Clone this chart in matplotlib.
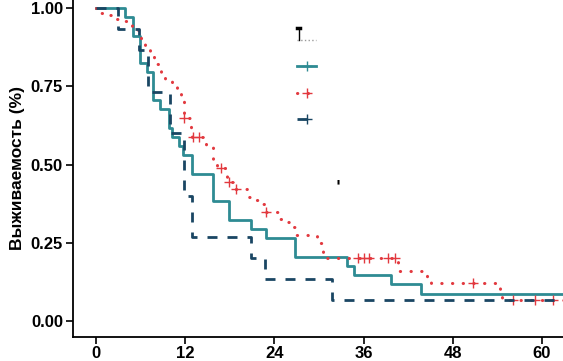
import numpy as np
import matplotlib
matplotlib.use("Agg")
import matplotlib.pyplot as plt
from matplotlib.lines import Line2D

plt.rcParams['font.family'] = ['Liberation Sans', 'DejaVu Sans']

# step curves: time (months) where survival changes, and level after the step
teal_t = [0, 3.9, 5.0, 5.9, 6.9, 7.7, 8.6, 9.8, 10.2, 11.2, 11.7, 12.9, 15.7,
          17.9, 20.9, 22.9, 26.8, 33.8, 34.7, 39.7, 43.7]
teal_s = [1.0, 0.971, 0.912, 0.824, 0.794, 0.706, 0.676, 0.618, 0.588, 0.559,
          0.529, 0.471, 0.382, 0.324, 0.294, 0.265, 0.206, 0.176, 0.147, 0.118, 0.088]

red_t = [0, 0.6, 1.8, 2.7, 3.5, 4.8, 6.0, 6.6, 7.3, 7.8, 8.4, 8.8, 9.3, 10.2,
         10.9, 11.5, 11.8, 12.8, 12.9, 14.8, 15.7, 16.3, 17.6, 17.8, 18.4, 20.5,
         21.3, 22.3, 22.8, 24.5, 25.6, 26.4, 26.8, 29.7, 30.4, 30.6, 40.6, 44.6,
         45.1, 54.4, 54.6]
red_s = [1.0, 0.985, 0.978, 0.965, 0.957, 0.93, 0.895, 0.875, 0.85, 0.82, 0.81,
         0.786, 0.767, 0.757, 0.73, 0.716, 0.65, 0.61, 0.588, 0.556, 0.51, 0.488,
         0.46, 0.445, 0.422, 0.397, 0.387, 0.373, 0.349, 0.326, 0.317, 0.30,
         0.275, 0.25, 0.235, 0.20, 0.16, 0.133, 0.12, 0.10, 0.067]
red_cens = [11.9, 13.1, 13.8, 16.8, 17.9, 18.8, 22.9, 35.2, 36.0, 36.7, 39.3,
            40.3, 50.7, 56.1, 59.1, 61.5]

navy_t = [0, 2.9, 5.8, 7.0, 10.0, 11.9, 12.9, 20.8, 22.8, 31.7]
navy_s = [1.0, 0.933, 0.867, 0.733, 0.6, 0.4, 0.267, 0.2, 0.133, 0.067]

t_end = 64
xticks = [0, 12, 24, 36, 48, 60]
yticks = [0.0, 0.25, 0.5, 0.75, 1.0]

c_teal = '#2E8B93'
c_red = '#E2393F'
c_navy = '#1A4663'

fig = plt.figure(figsize=(5.63, 3.61), dpi=100)
ax = fig.add_axes([0.129, 0.0673, 0.871, 0.9327])


def km(t, s):
    return np.append(t, t_end), np.append(s, s[-1])


x, y = km(teal_t, teal_s)
ax.step(x, y, where='post', color=c_teal, lw=2)

x, y = km(red_t, red_s)
ax.step(x, y, where='post', color=c_red, lw=2.2, linestyle=(0, (0.1, 3.4)),
        dash_capstyle='round')
idx = np.searchsorted(red_t, red_cens, side='right') - 1
ax.plot(red_cens, np.array(red_s)[idx], '+', color=c_red, ms=6.5, mew=1)

x, y = km(navy_t, navy_s)
ax.step(x, y, where='post', color=c_navy, lw=2, linestyle=(0, (3.6, 3.6)))

# legend keys (labels are blank in the original)
handles = [
    Line2D([], [], color='#999999', lw=1, linestyle=':'),
    Line2D([], [], color=c_teal, lw=2, marker='+', ms=6.5, mew=1),
    Line2D([], [], color=c_red, lw=2.2, linestyle=(0, (0.1, 3.4)),
           dash_capstyle='round', marker='+', ms=6.5, mew=1),
    Line2D([], [], color=c_navy, lw=2, linestyle=(0, (3.6, 3.6)),
           marker='+', ms=6.5, mew=1),
]
ax.legend(handles, ['', '', '', ''], loc='upper left',
          bbox_to_anchor=(0.458, 0.9), frameon=False, handlelength=1.15,
          handletextpad=0, borderpad=0, borderaxespad=0, labelspacing=0.68,
          fontsize=12)
# small black corner above the legend keys
ax.plot([0.462, 0.462], [0.881, 0.918], transform=ax.transAxes,
        color='black', lw=1)
ax.plot([0.457, 0.463], [0.917, 0.917], transform=ax.transAxes,
        color='black', lw=2.5)
ax.text(0.541, 0.459, '▮', transform=ax.transAxes, fontsize=4,
        ha='center', va='center', family='DejaVu Sans')

ax.set_xlim(-3.15, 62.85)
ax.set_ylim(-0.05, 1.0256)
ax.set_xticks(xticks)
ax.set_yticks(yticks)
ax.set_xticklabels([str(v) for v in xticks])
ax.set_yticklabels([f'{v:.2f}' for v in yticks])
for lab in ax.get_xticklabels() + ax.get_yticklabels():
    lab.set_fontweight('bold')
    lab.set_fontsize(12)
    lab.set_color('black')
ax.tick_params(direction='out', length=5, width=1.2, color='black')
ax.tick_params(axis='x', pad=1.5)
ax.tick_params(axis='y', pad=2)
ax.spines['top'].set_visible(False)
ax.spines['right'].set_visible(False)
ax.spines['left'].set_linewidth(1.3)
ax.spines['bottom'].set_linewidth(1.3)
ax.set_ylabel('Выживаемость (%)', fontsize=12.5, fontweight='bold', labelpad=4)

fig.savefig('out.png', dpi=100)
